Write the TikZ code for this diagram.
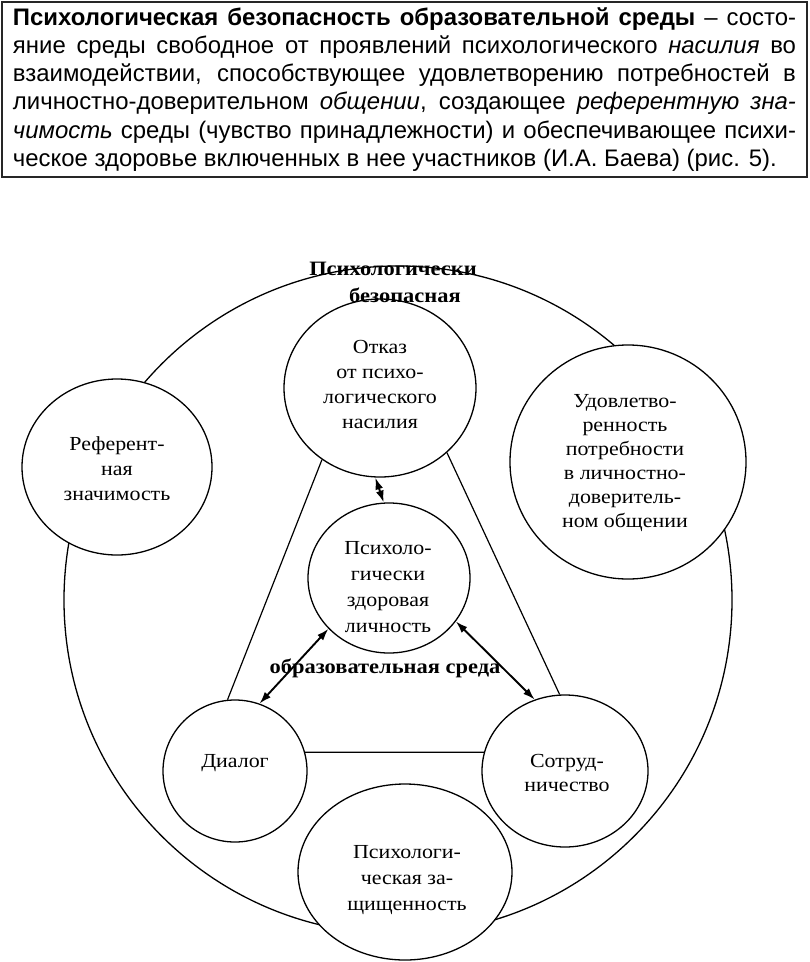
\documentclass[tikz,border=0pt]{standalone}
\usepackage{fontspec}
\setmainfont{Liberation Serif}
\newfontfamily\hdrfont{Liberation Sans}
\newfontfamily\circfont{Liberation Serif}[FakeStretch=1.1]
\usetikzlibrary{shapes.geometric,arrows.meta}
\begin{document}
\begin{tikzpicture}[x=1bp,y=-1bp,
  circ/.style={ellipse, draw, line width=1.3bp, fill=white, inner sep=0pt},
  txt/.style={align=center, inner sep=0pt, font=\circfont\fontsize{20}{25}\selectfont},
  link/.style={line width=1.2bp},
  dbl/.style={line width=1.9bp, {Latex[length=12bp,width=8bp]}-{Latex[length=12bp,width=8bp]}},
  lbl/.style={inner sep=0pt, anchor=base, font=\circfont\bfseries\fontsize{20.5}{26}\selectfont}
]
\useasboundingbox (0,0) rectangle (810,962);

% header
\node[draw=black!85, line width=2bp, minimum width=805bp, minimum height=175bp, inner sep=0pt] (header) at (404.5,89.5)
{\hdrfont\fontsize{24}{28.2}\selectfont\vbox{\hsize=783bp
\hbox to\hsize{\textbf{Психологическая безопасность образовательной среды} – состо-}
\hbox to\hsize{яние среды свободное от проявлений психологического \textit{насилия} во}
\hbox to\hsize{взаимодействии, способствующее удовлетворению потребностей в}
\hbox to\hsize{личностно-доверительном \textit{общении}, создающее \textit{референтную зна-}}
\hbox to\hsize{\textit{чимость} среды (чувство принадлежности) и обеспечивающее психи-}
\hbox to\hsize{ческое здоровье включенных в нее участников (И.А. Баева) (рис. 5).\hfil}}};

% outer circle
\node[circle, draw, line width=1.3bp, minimum size=668bp, inner sep=0pt] (outer) at (398,600) {};

% circles
\node[circ, minimum width=192bp, minimum height=178bp] (refusal) at (380,388) {};
\node[circ, minimum width=190bp, minimum height=176bp] (referent) at (117,467) {};
\node[circ, minimum width=236bp, minimum height=234bp] (satisf) at (628,462) {};
\node[circ, minimum width=162bp, minimum height=150bp] (health) at (389,578) {};
\node[circ, minimum width=144bp, minimum height=142bp] (dialog) at (235,771) {};
\node[circ, minimum width=166bp, minimum height=152bp] (coop) at (565,771) {};
\node[circ, minimum width=214bp, minimum height=176bp] (protect) at (405,872) {};

% triangle
\draw[link] (refusal.231) -- (dialog.96);
\draw[link] (refusal.316) -- (coop.94);
\draw[link] (dialog.15) -- (coop.167);

% arrows
\draw[dbl] (refusal.267) -- (health.94);
\draw[dbl] (health.220) -- (dialog.70);
\draw[dbl] (health.327) -- (coop.113);

% texts
\node[txt] (t-refusal) at (380,384.5) {Отказ\\от психо-\\логического\\насилия};
\node[txt] (t-referent) at (117,468.5) {Референт-\\ная\\значимость};
\node[txt, font=\circfont\fontsize{20}{24}\selectfont] (t-satisf) at (625,463) {Удовлетво-\\ренность\\потребности\\в личностно-\\доверитель-\\ном общении};
\node[txt, font=\circfont\fontsize{20}{26}\selectfont] (t-health) at (388,587) {Психоло-\\гически\\здоровая\\личность};
\node[txt] (t-dialog) at (235,763) {Диалог};
\node[txt] (t-coop) at (567,773) {Сотруд-\\ничество};
\node[txt, font=\circfont\fontsize{20}{26}\selectfont] (t-protect) at (407,880) {Психологи-\\ческая за-\\щищенность};

% bold labels
\node[lbl] (l-psy) at (393,275) {Психологически};
\node[lbl] (l-safe) at (405,302) {безопасная};
\node[lbl] (l-env) at (385,673) {образовательная среда};
\end{tikzpicture}
\end{document}
